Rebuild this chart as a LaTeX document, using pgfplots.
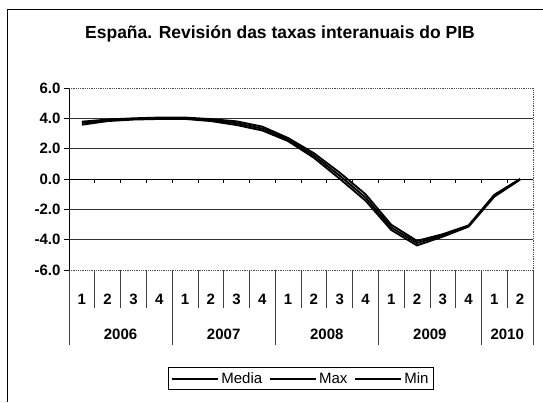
\documentclass[border=0pt]{standalone}
\usepackage{pgfplots}
\pgfplotsset{compat=1.18}
\usepackage{fontspec}
\setmainfont{Liberation Sans}
\begin{document}
\begin{tikzpicture}[x=1pt,y=1pt]
\useasboundingbox (0,0) rectangle (543,402);
\draw[line width=1pt] (7,0) -- (7,392) -- (543,392);
\node[font=\bfseries\fontsize{17.5}{19}\selectfont] at (280,368) {España. Revisión das taxas interanuais do PIB};
\begin{axis}[
  at={(69pt,132pt)}, anchor=south west,
  scale only axis, width=464pt, height=182pt,
  xmin=0, xmax=18, ymin=-6, ymax=6,
  clip=false,
  axis y line*=left, axis x line*=bottom,
  y axis line style={-, black, line width=0.8pt},
  x axis line style={-, densely dotted, black!70, line width=0.8pt},
  ytick={-6,-4,...,6},
  /pgf/number format/assume math mode=true,
  yticklabel={\pgfmathprintnumber[fixed,fixed zerofill,precision=1]{\tick}},
  yticklabel style={font=\bfseries\fontsize{15}{17}\selectfont},
  ytick style={black, line width=0.8pt},
  tick align=outside, major tick length=5pt,
  xtick={0.5,1.5,...,17.5},
  xticklabels={1,2,3,4,1,2,3,4,1,2,3,4,1,2,3,4,1,2},
  xtick style={draw=none},
  xticklabel style={anchor=center, yshift=-24pt, font=\bfseries\fontsize{15}{17}\selectfont},
  legend columns=3,
  legend style={at={(0.5,-0.533)}, anchor=north, draw=black, line width=0.8pt,
    font=\fontsize{15}{17}\selectfont, inner sep=3pt,
    /tikz/every even column/.append style={column sep=5pt}},
  legend image code/.code={\draw[#1] (0pt,0pt) -- (46pt,0pt);},
]
% plot area border (top and right)
\draw[densely dotted, black!70, line width=0.8pt] (axis cs:0,6) -- (axis cs:18,6) -- (axis cs:18,-6);
% gridlines
\draw[black!80, line width=0.7pt] (axis cs:0,4) -- (axis cs:18,4);
\draw[black!80, line width=0.7pt] (axis cs:0,2) -- (axis cs:18,2);
\draw[black!80, line width=0.7pt] (axis cs:0,-2) -- (axis cs:18,-2);
\draw[black!80, line width=0.7pt] (axis cs:0,-4) -- (axis cs:18,-4);
\draw[black, line width=0.8pt] (axis cs:0,0) -- (axis cs:18,0);
\pgfplotsinvokeforeach{1,...,17}{\draw[black, line width=0.7pt] (axis cs:#1,0) -- ++(0pt,-4pt);}
% category separators
\pgfplotsinvokeforeach{1,2,3,5,6,7,9,10,11,13,14,15,17}{\draw[black!75, line width=0.7pt] (axis cs:#1,-6) -- ++(0pt,-38pt);}
\pgfplotsinvokeforeach{0,4,8,12,16,18}{\draw[black!75, line width=0.7pt] (axis cs:#1,-6) -- ++(0pt,-75pt);}
% year labels
\node[font=\bfseries\fontsize{15}{17}\selectfont] at ([yshift=-64pt]axis cs:2,-6) {2006};
\node[font=\bfseries\fontsize{15}{17}\selectfont] at ([yshift=-64pt]axis cs:6,-6) {2007};
\node[font=\bfseries\fontsize{15}{17}\selectfont] at ([yshift=-64pt]axis cs:10,-6) {2008};
\node[font=\bfseries\fontsize{15}{17}\selectfont] at ([yshift=-64pt]axis cs:14,-6) {2009};
\node[font=\bfseries\fontsize{15}{17}\selectfont] at ([yshift=-64pt]axis cs:17,-6) {2010};
% series
\addplot[black, line width=1.9pt] coordinates {
 (0.5,3.70) (1.5,3.87) (2.5,3.96) (3.5,4.00) (4.5,4.00) (5.5,3.88) (6.5,3.68) (7.5,3.32)
 (8.5,2.60) (9.5,1.55) (10.5,0.22) (11.5,-1.22) (12.5,-3.20) (13.5,-4.22) (14.5,-3.72)
 (15.5,-3.10) (16.5,-1.10) (17.5,0.00)};
\addlegendentry{Media}
\addplot[black, line width=1.9pt] coordinates {
 (0.5,3.78) (1.5,3.92) (2.5,4.00) (3.5,4.05) (4.5,4.05) (5.5,3.95) (6.5,3.80) (7.5,3.45)
 (8.5,2.70) (9.5,1.70) (10.5,0.42) (11.5,-1.00) (12.5,-3.02) (13.5,-4.08) (14.5,-3.64)
 (15.5,-3.06) (16.5,-1.04) (17.5,0.00)};
\addlegendentry{Max}
\addplot[black, line width=1.9pt] coordinates {
 (0.5,3.58) (1.5,3.82) (2.5,3.92) (3.5,3.96) (4.5,3.96) (5.5,3.82) (6.5,3.56) (7.5,3.20)
 (8.5,2.50) (9.5,1.40) (10.5,0.02) (11.5,-1.42) (12.5,-3.36) (13.5,-4.38) (14.5,-3.80)
 (15.5,-3.14) (16.5,-1.16) (17.5,-0.04)};
\addlegendentry{Min}
\end{axis}
\end{tikzpicture}
\end{document}
